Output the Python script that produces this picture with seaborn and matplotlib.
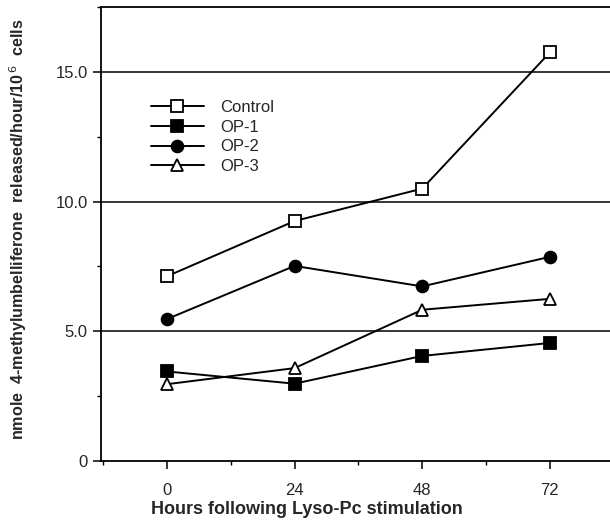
import numpy as np
import pandas as pd
import seaborn as sns
import matplotlib.pyplot as plt
from matplotlib.lines import Line2D
from matplotlib.ticker import MultipleLocator

hours = [0, 24, 48, 72]
control = [7.12, 9.25, 10.5, 15.75]
op1 = [3.45, 2.98, 4.05, 4.55]
op2 = [5.47, 7.52, 6.73, 7.87]
op3 = [2.96, 3.58, 5.83, 6.25]

series_names = ['Control', 'OP-1', 'OP-2', 'OP-3']
series_vals = [control, op1, op2, op3]
markers = ['s', 's', 'o', '^']
facecols = ['white', 'black', 'black', 'white']
msizes = [8, 9, 8.5, 8]

df = pd.DataFrame({'hours': hours * 4,
                   'value': control + op1 + op2 + op3,
                   'group': np.repeat(series_names, len(hours))})

sns.set_style('white')
plt.rcParams['font.family'] = ['Liberation Sans', 'DejaVu Sans']

fig = plt.figure(figsize=(6.1, 5.2), dpi=100)
ax = fig.add_axes([0.1656, 0.1135, 0.8344, 0.873])

handles = []
for name, m, fc, ms in zip(series_names, markers, facecols, msizes):
    sub = df[df['group'] == name]
    sns.lineplot(data=sub, x='hours', y='value', ax=ax, color='black', lw=1.4,
                 marker=m, markersize=ms, markerfacecolor=fc, markeredgecolor='black',
                 markeredgewidth=1.3, zorder=3, legend=False)
    handles.append(Line2D([], [], color='black', lw=1.4, marker=m, markersize=ms,
                          markerfacecolor=fc, markeredgecolor='black', markeredgewidth=1.3))

for yv in [5, 10, 15]:
    ax.axhline(yv, color='black', lw=1.1, zorder=1)

ax.set_xlim(-12.4, 83.3)
ax.set_ylim(0, 17.5)
ax.set_xticks(hours)
ax.set_xticklabels([str(h) for h in hours], fontsize=12)
ax.xaxis.set_minor_locator(MultipleLocator(12))
ax.set_yticks([0, 5, 10, 15])
ax.set_yticklabels(['0', '5.0', '10.0', '15.0'], fontsize=12)
ax.yaxis.set_minor_locator(MultipleLocator(2.5))
ax.tick_params(which='major', direction='out', length=6, width=1.1, color='black', bottom=True, left=True)
ax.tick_params(axis='x', which='major', pad=10)
ax.tick_params(which='minor', direction='out', length=3, width=1, color='black', bottom=True, left=True)

for s in ['left', 'bottom', 'top']:
    ax.spines[s].set_color('black')
    ax.spines[s].set_linewidth(1.3)
ax.spines['right'].set_visible(False)

ax.set_xlabel('Hours following Lyso-Pc stimulation', fontsize=13, fontweight='bold')
ax.xaxis.set_label_coords(0.405, -0.088)
ax.set_ylabel('nmole  4-methylumbelliferone  released/hour/10$^{\\,6}$  cells',
              fontsize=11.6, fontweight='bold')
ax.yaxis.set_label_coords(-0.142, 0.51)

leg = ax.legend(handles, series_names, loc='upper left', bbox_to_anchor=(0.068, 0.828),
                frameon=False, handlelength=3.2, labelspacing=0.28, handletextpad=0.95,
                numpoints=1, fontsize=12)

fig.savefig('out.png', dpi=100)
